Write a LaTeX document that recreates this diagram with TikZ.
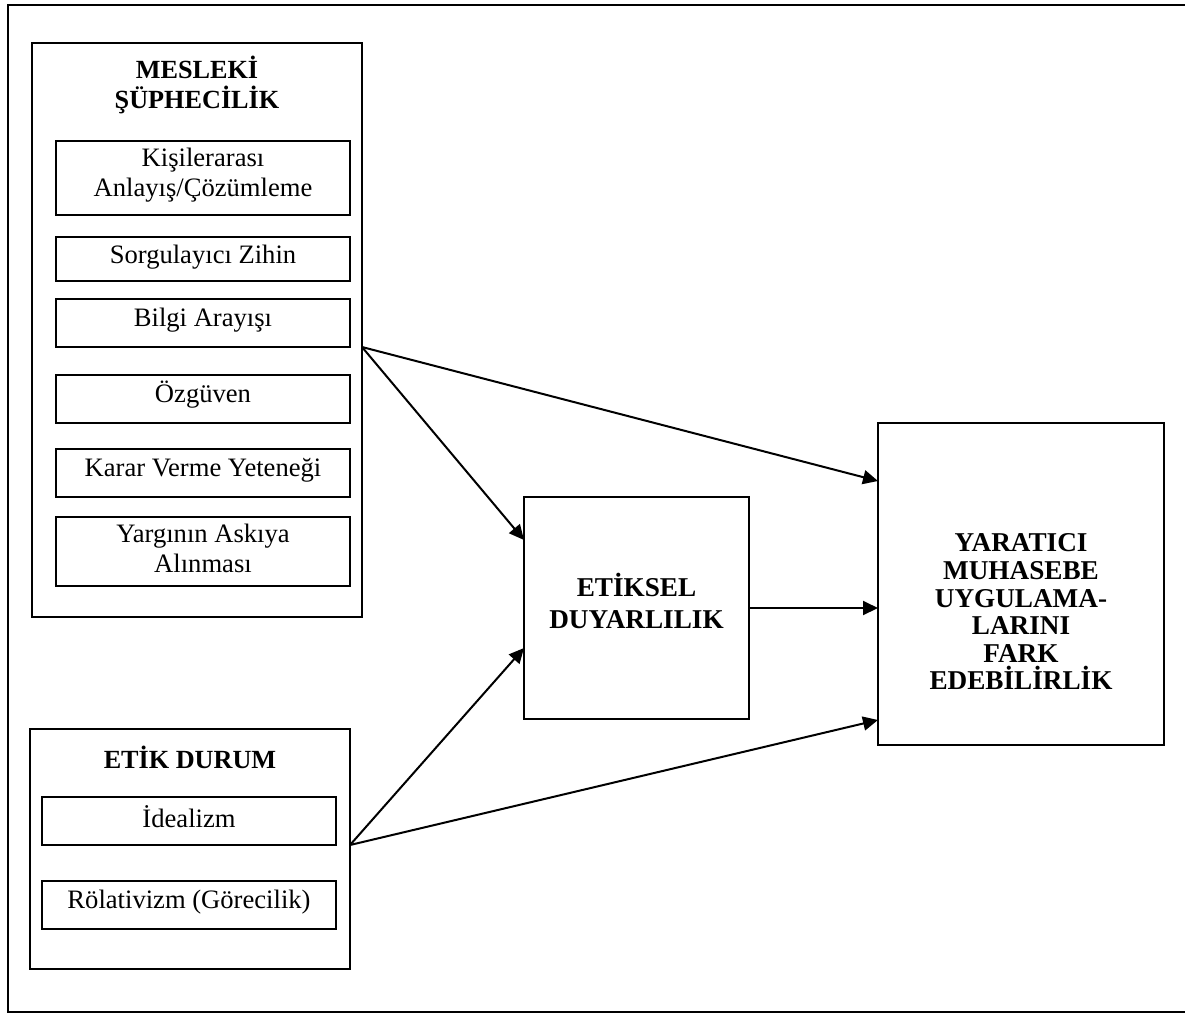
\documentclass[tikz,border=0pt]{standalone}
\usepackage{fontspec}
\setmainfont{Liberation Serif}
\usetikzlibrary{arrows.meta}

\begin{document}
\begin{tikzpicture}[x=0.5pt,y=-0.5pt,
  every node/.style={inner sep=0pt,outer sep=0pt,font=\fontsize{13.3}{15}\selectfont},
  frame/.style={draw,line width=0.9pt,minimum width=#1},
  subbox/.style={draw,line width=0.9pt,minimum width=147pt},
  boxtext/.style={align=center},
  headtext/.style={font=\fontsize{13.1}{15}\selectfont\bfseries,align=center},
  bigtext/.style={font=\fontsize{13.6}{#1}\selectfont\bfseries,align=center},
  link/.style={line width=1pt,-{Triangle[length=7.5pt,width=7pt]}}
]
\useasboundingbox (0,0) rectangle (1185,1014);
\begin{scope}
  \clip (0,0) rectangle (1185,1014);
  % outer frame, its right side runs off the page
  \draw[line width=0.9pt] (8,5) rectangle (1200,1012);
\end{scope}

% professional scepticism group
\node[frame=165pt,minimum height=287pt] (mes) at (197,330) {};
\node[headtext] (mestitle) at (197,85) {MESLEKİ\\ŞÜPHECİLİK};
\node[subbox,minimum height=37pt] (kis) at (203,178) {};
\node[subbox,minimum height=22pt] (sor) at (203,259) {};
\node[subbox,minimum height=24pt] (bil) at (203,323) {};
\node[subbox,minimum height=24pt] (ozg) at (203,399) {};
\node[subbox,minimum height=24pt] (kar) at (203,473) {};
\node[subbox,minimum height=34.5pt] (yrg) at (203,551.5) {};
\node[boxtext] (kist) at ([yshift=1.5pt]kis.center) {Kişilerarası\\Anlayış/Çözümleme};
\node[boxtext] (sort) at ([yshift=1pt]sor.center) {Sorgulayıcı Zihin};
\node[boxtext] (bilt) at ([yshift=1.5pt]bil.center) {Bilgi Arayışı};
\node[boxtext] (ozgt) at ([yshift=2pt]ozg.center) {Özgüven};
\node[boxtext] (kart) at ([yshift=1.5pt]kar.center) {Karar Verme Yeteneği};
\node[boxtext] (yrgt) at ([yshift=1.5pt]yrg.center) {Yargının Askıya\\Alınması};

% ethical position group
\node[frame=160pt,minimum height=120pt] (etik) at (190,849) {};
\node[headtext] (etiktitle) at (190,757) {ETİK DURUM};
\node[subbox,minimum height=24pt] (ide) at (189,821) {};
\node[subbox,minimum height=24pt] (rol) at (189,905) {};
\node[boxtext] (idet) at ([yshift=2pt]ide.center) {İdealizm};
\node[boxtext] (rolt) at ([yshift=1.5pt]rol.center) {Rölativizm (Görecilik)};

% mediator and outcome
\node[frame=112.5pt,minimum height=111pt] (ets) at (636.5,608) {};
\node[bigtext=16pt] (etstext) at (636.5,601) {ETİKSEL\\DUYARLILIK};
\node[frame=143pt,minimum height=161pt] (yrt) at (1021,584) {};
\node[bigtext=13.8pt] (yrttext) at (1021,612)
  {YARATICI\\MUHASEBE\\UYGULAMA-\\LARINI\\FARK\\EDEBİLİRLİK};

% connectors
\coordinate (mesout) at (mes.east |- bil.south);
\coordinate (etikout) at (etik.east |- ide.south);
\draw[link] (mesout) -- ([yshift=51.5pt]yrt.west);
\draw[link] (mesout) -- ([yshift=34pt]ets.west);
\draw[link] (ets.east) -- (ets.east -| yrt.west);
\draw[link] (etikout) -- ([yshift=-20pt]ets.west);
\draw[link] (etikout) -- ([yshift=-68pt]yrt.west);
\end{tikzpicture}
\end{document}
